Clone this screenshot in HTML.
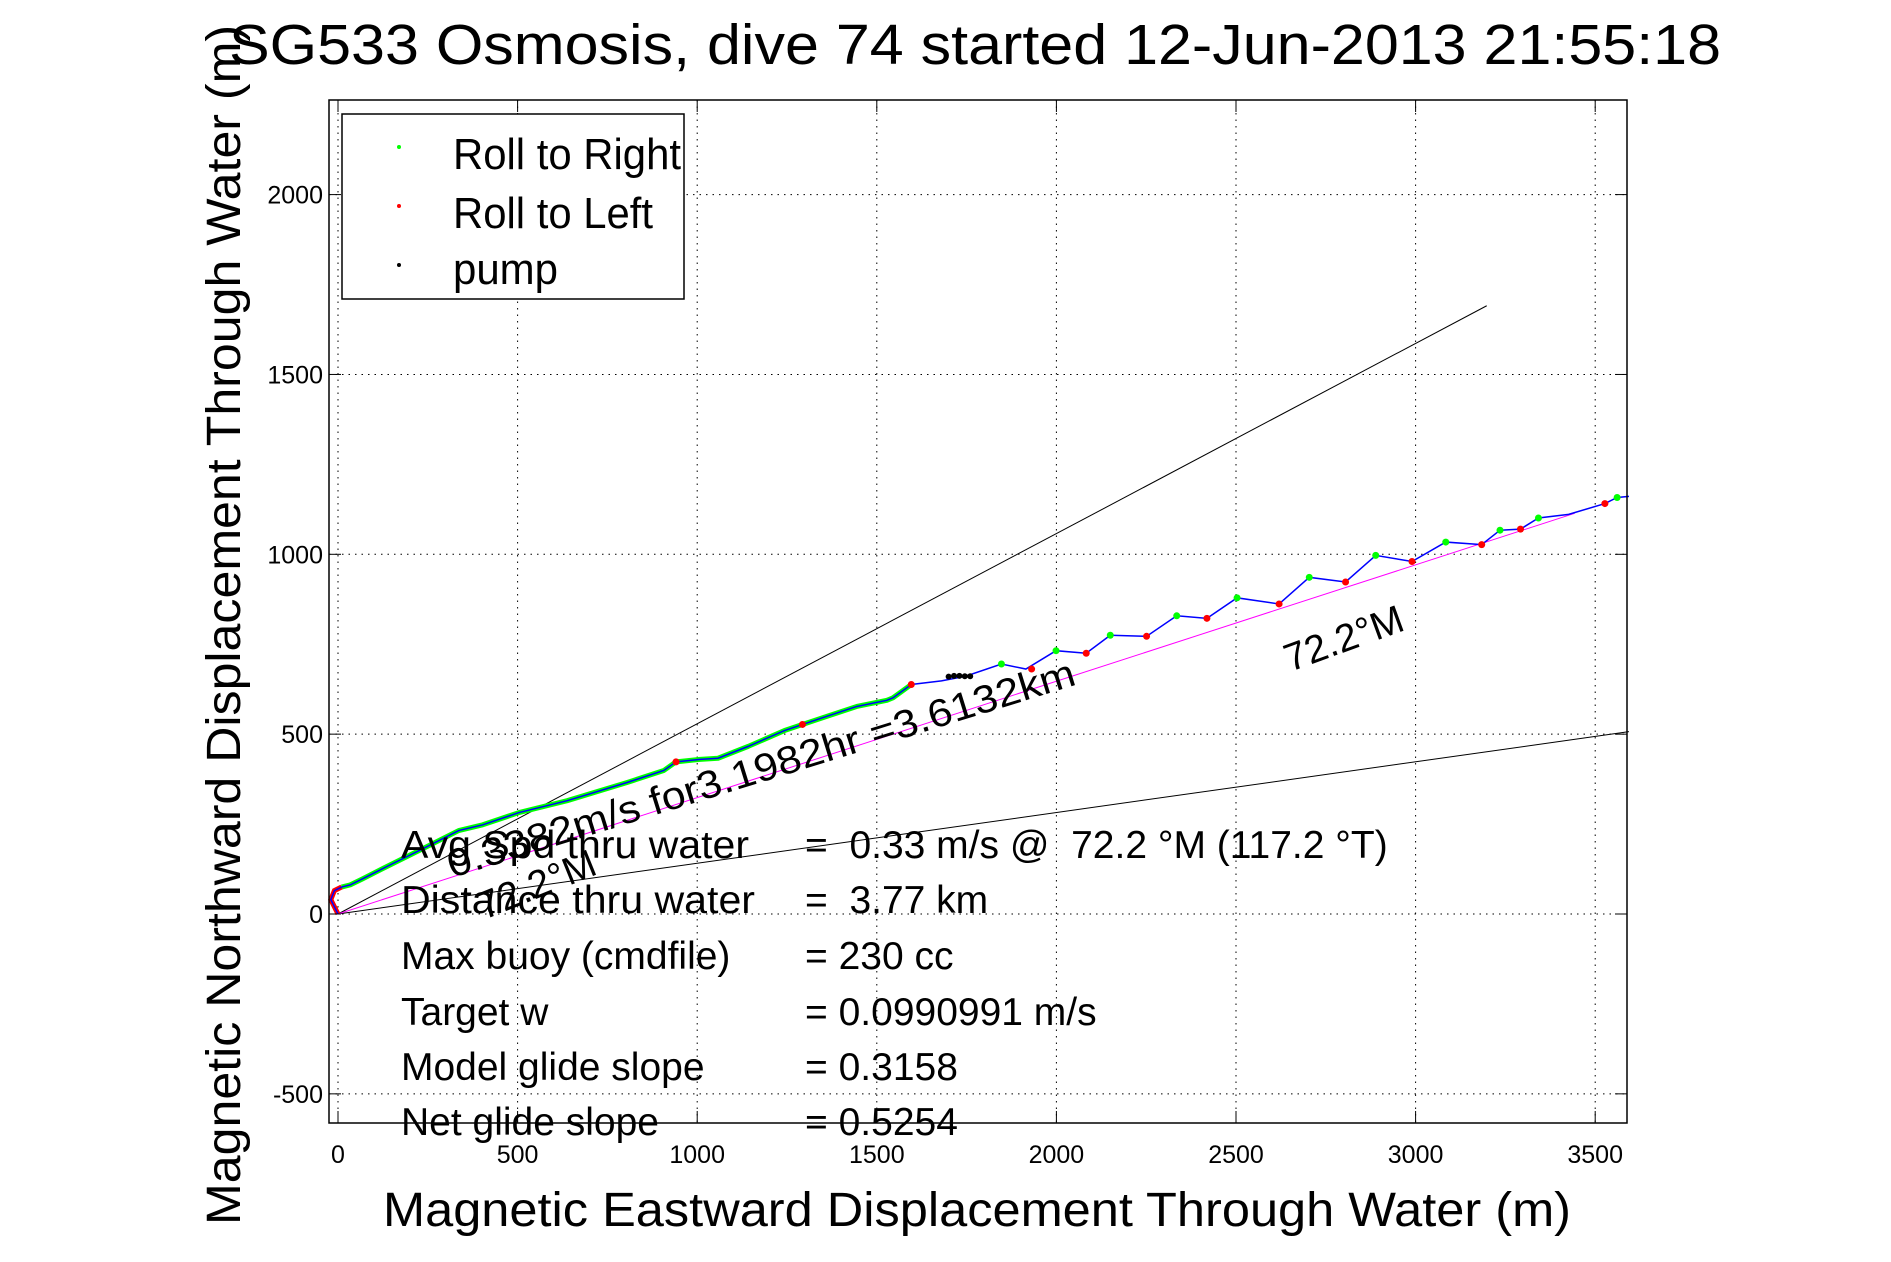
<!DOCTYPE html>
<html><head><meta charset="utf-8"><style>
html,body{margin:0;padding:0;background:#fff}
svg{display:block;font-family:"Liberation Sans",sans-serif}
text{white-space:pre}
</style></head><body>
<svg id="chart" width="1891" height="1262" viewBox="0 0 1891 1262">
<rect x="0" y="0" width="1891" height="1262" fill="#fff"/>
<g id="grid"></g>
<g id="marks"></g>
<rect x="329" y="100" width="1298" height="1023" fill="none" stroke="#000" stroke-width="1.5"/>
<g id="ticks"></g>
<text x="975" y="64" font-size="57" text-anchor="middle" textLength="1492" lengthAdjust="spacingAndGlyphs">SG533 Osmosis, dive 74 started 12-Jun-2013 21:55:18</text>
<text transform="translate(240,625) rotate(-90)" font-size="48" text-anchor="middle" textLength="1200" lengthAdjust="spacingAndGlyphs">Magnetic Northward Displacement Through Water (m)</text>
<text x="977" y="1226" font-size="48" text-anchor="middle" textLength="1188" lengthAdjust="spacingAndGlyphs">Magnetic Eastward Displacement Through Water (m)</text>
<g id="legend">
<rect x="342" y="114" width="342" height="185" fill="#fff" stroke="#000" stroke-width="1.5"/>
<circle cx="399" cy="147" r="2" fill="#0f0"/>
<text x="453" y="169" font-size="44" textLength="228" lengthAdjust="spacingAndGlyphs">Roll to Right</text>
<circle cx="399" cy="206" r="2" fill="#f00"/>
<text x="453" y="228" font-size="44" textLength="200" lengthAdjust="spacingAndGlyphs">Roll to Left</text>
<circle cx="399" cy="265" r="2" fill="#000"/>
<text x="453" y="284" font-size="44" textLength="105" lengthAdjust="spacingAndGlyphs">pump</text>
</g>
<g font-size="39">
<text x="401" y="858" textLength="348" lengthAdjust="spacingAndGlyphs">Avg Spd thru water</text>
<text x="805" y="858">=  0.33 m/s @  72.2 °M (117.2 °T)</text>
<text x="401" y="913" textLength="354" lengthAdjust="spacingAndGlyphs">Distance thru water</text>
<text x="805" y="913">=  3.77 km</text>
<text x="401" y="969">Max buoy (cmdfile)</text>
<text x="805" y="969">= 230 cc</text>
<text x="401" y="1025">Target w</text>
<text x="805" y="1025">= 0.0990991 m/s</text>
<text x="401" y="1080">Model glide slope</text>
<text x="805" y="1080">= 0.3158</text>
<text x="401" y="1135">Net glide slope</text>
<text x="805" y="1135">= 0.5254</text>
</g>
<text transform="translate(452,878) rotate(-17.2)" font-size="39" textLength="655" lengthAdjust="spacingAndGlyphs">0.3382m/s for3.1982hr =3.6132km</text>
<text transform="translate(1290,672) rotate(-20)" font-size="39">72.2°M</text>
<text transform="translate(484,920) rotate(-22)" font-size="39">72.2°M</text>
</svg>
<script>
const xTicks=[0,500,1000,1500,2000,2500,3000,3500];
const yTicks=[-500,0,500,1000,1500,2000];
const trackX=[0,-20,-10,10,34,67,134,235,336,403,504,638,806,907,941,1008,1058,1142,1243,1344,1444,1528,1545,1596,1680,1747,1847,1915,1999,2083,2150,2251,2335,2419,2503,2620,2704,2805,2889,2990,3084,3184,3235,3292,3342,3426,3527,3561,3594];
const trackY=[0,40,65,75,81,97,131,181,232,248,282,315,366,399,423,430,433,466,510,544,577,594,601,638,648,661,695,681,732,725,775,772,829,822,879,862,936,923,997,980,1034,1027,1067,1070,1101,1111,1141,1158,1161];
const rightX=[1847,1999,2150,2335,2503,2704,2889,3084,3235,3342,3561];
const rightY=[695,732,775,829,879,936,997,1034,1067,1101,1158];
const leftX=[941,1293,1596,1931,2083,2251,2419,2620,2805,2990,3184,3292,3527];
const leftY=[423,527,638,681,725,772,822,862,923,980,1027,1070,1141];
const pumpX=[1700,1715,1730,1745,1760];
const pumpY=[660,662,662,661,661];
const refEndX=[3198,3594,3443];
const refEndY=[1691,507,1114];
const X=m=>338+m*0.3592, Y=m=>914-m*0.3597;
const NS='http://www.w3.org/2000/svg';
function mk(tag,parent,attrs){const e=document.createElementNS(NS,tag);for(const k in attrs)e.setAttribute(k,attrs[k]);parent.appendChild(e);return e;}
const grid=document.getElementById('grid'),ticks=document.getElementById('ticks'),marks=document.getElementById('marks');
xTicks.forEach(v=>{
 const g=mk('line',grid,{x1:X(v),x2:X(v),y1:100,y2:1123,stroke:'#000','stroke-width':1,'stroke-dasharray':'1.5,5'});
 
 
 const t1=mk('line',ticks,{x1:X(v),x2:X(v),y1:1123,y2:1111,stroke:'#000','stroke-width':1});
 
 
 const t2=mk('line',ticks,{x1:X(v),x2:X(v),y1:100,y2:112,stroke:'#000','stroke-width':1});
 
 
 const l=mk('text',ticks,{x:X(v),y:1163,'font-size':25,'text-anchor':'middle'});l.textContent=v;
 
 
});
yTicks.forEach(v=>{
 const g=mk('line',grid,{x1:329,x2:1627,y1:Y(v),y2:Y(v),stroke:'#000','stroke-width':1,'stroke-dasharray':'1.5,5'});
 
 
 const t1=mk('line',ticks,{x1:329,x2:341,y1:Y(v),y2:Y(v),stroke:'#000','stroke-width':1});
 
 
 const t2=mk('line',ticks,{x1:1627,x2:1615,y1:Y(v),y2:Y(v),stroke:'#000','stroke-width':1});
 
 
 const l=mk('text',ticks,{x:323,y:Y(v)+9,'font-size':25,'text-anchor':'end'});l.textContent=v;
 
 
});
const refColors=['#000','#000','#f0f'];
const refNames=['upper-bound-line','lower-bound-line','mean-heading-line'];
refEndX.forEach((v,i)=>{
 const l=mk('line',marks,{x1:X(0),y1:Y(0),x2:X(v),y2:Y(refEndY[i]),stroke:refColors[i],'stroke-width':1});
 
 
});
const early=trackX.map((v,i)=>[v,trackY[i]]).filter(p=>p[0]>=10&&p[0]<=1660);
const gp=mk('polyline',marks,{points:early.map(p=>X(p[0])+','+Y(p[1])).join(' '),fill:'none',stroke:'#0f0','stroke-width':5,'stroke-linejoin':'round'});


const loop=trackX.slice(0,4).map((v,i)=>X(v)+','+Y(trackY[i])).join(' ');
const rp=mk('polyline',marks,{points:loop,fill:'none',stroke:'#f00','stroke-width':5});


const tr=mk('polyline',marks,{points:trackX.map((v,i)=>X(v)+','+Y(trackY[i])).join(' '),fill:'none',stroke:'#00f','stroke-width':1.5});


pumpX.forEach((v,i)=>{
 const c=mk('circle',marks,{cx:X(v),cy:Y(pumpY[i]),r:3,fill:'#000'});
 
 
});
rightX.forEach((v,i)=>{
 const c=mk('circle',marks,{cx:X(v),cy:Y(rightY[i]),r:3.5,fill:'#0f0'});
 
 
});
leftX.forEach((v,i)=>{
 const c=mk('circle',marks,{cx:X(v),cy:Y(leftY[i]),r:3.5,fill:'#f00'});
 
 
});
</script>
</body></html>
